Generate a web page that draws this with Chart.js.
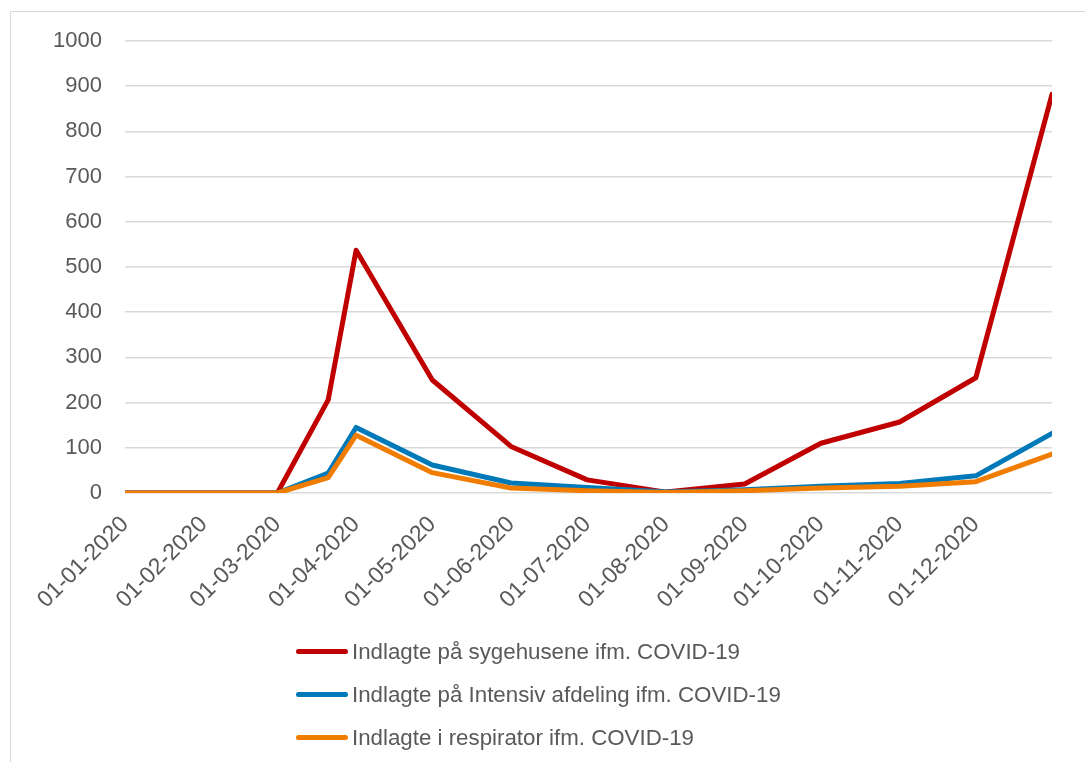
<!DOCTYPE html>
<html>
<head>
<meta charset="utf-8">
<script src="https://cdn.jsdelivr.net/npm/chart.js@4.4.0/dist/chart.umd.min.js"></script>
<style>
  body { margin: 0; background: #fff; }
  #wrap { position: relative; width: 1085px; height: 762px; overflow: hidden; }
  #frame { position: absolute; left: 10px; top: 11px; width: 1200px; height: 900px;
           border-left: 1.5px solid #d9d9d9; border-top: 1.5px solid #d9d9d9; }
  #myChart { position: absolute; left: 0; top: 0; }
  #legend { position: absolute; left: 296px; top: 630px; font-family: "Liberation Sans", Arial, sans-serif;
            font-size: 22.3px; color: #595959; }
  .item { display: flex; align-items: center; height: 43px; }
  .swatch { width: 52px; height: 5px; border-radius: 3px; margin-right: 4px; }
</style>
</head>
<body>
<div id="wrap">
  <div id="frame"></div>
  <canvas id="myChart" width="1085" height="762"></canvas>
  <div id="legend"></div>
</div>
<script>
// dates of the data points
const dates = ['2020-01-01', '2020-02-01', '2020-03-01', '2020-03-21', '2020-04-01', '2020-05-01', '2020-06-01',
               '2020-07-01', '2020-08-01', '2020-09-01', '2020-10-01', '2020-11-01', '2020-12-01', '2020-12-31'];
const sygehus   = [0, 0, 0, 206, 537, 250, 103, 29, 2, 20, 110, 157, 255, 882];
const intensiv  = [0, 0, 0, 44, 145, 62, 22, 12, 2, 7, 15, 21, 38, 132];
const respirator = [0, 0, 0, 34, 128, 45, 11, 5, 1, 5, 11, 15, 25, 86];

// x axis ticks (month starts) and their labels
const tickDates = ['2020-01-01', '2020-02-01', '2020-03-01', '2020-04-01', '2020-05-01', '2020-06-01',
                   '2020-07-01', '2020-08-01', '2020-09-01', '2020-10-01', '2020-11-01', '2020-12-01'];
const tickLabels = ['01-01-2020', '01-02-2020', '01-03-2020', '01-04-2020', '01-05-2020', '01-06-2020',
                    '01-07-2020', '01-08-2020', '01-09-2020', '01-10-2020', '01-11-2020', '01-12-2020'];

const names = ['Indlagte på sygehusene ifm. COVID-19',
               'Indlagte på Intensiv afdeling ifm. COVID-19',
               'Indlagte i respirator ifm. COVID-19'];
const colors = ['#c00000', '#0079b8', '#f07c00'];

const start = Date.UTC(2020, 0, 1);
function day(s) {
  return Math.round((Date.parse(s + 'T00:00:00Z') - start) / 86400000);
}

function pts(values) {
  return values.map((v, i) => ({ x: day(dates[i]), y: v }));
}

const series = [sygehus, intensiv, respirator];
const ctx = document.getElementById('myChart');
const fam = '"Liberation Sans", Arial, sans-serif';

const chart = new Chart(ctx, {
  type: 'line',
  data: {
    datasets: series.map((s, i) => ({
      label: names[i],
      data: pts(s),
      borderColor: colors[i],
      backgroundColor: colors[i],
      borderWidth: 5,
      borderJoinStyle: 'round',
      borderCapStyle: 'round',
      pointRadius: 0,
      fill: false,
      tension: 0,
      order: 3 - i
    }))
  },
  options: {
    responsive: false,
    animation: false,
    layout: { padding: { left: 0, right: 33, top: 41, bottom: 0 } },
    plugins: {
      legend: { display: false },
      tooltip: { enabled: false }
    },
    scales: {
      x: {
        type: 'linear',
        min: 0,
        max: day('2020-12-31'),
        afterBuildTicks: (scale) => {
          scale.ticks = tickDates.map(d => ({ value: day(d) }));
        },
        afterFit: (scale) => { scale.height = 269; },
        grid: { display: false, drawTicks: false },
        border: { display: false },
        ticks: {
          autoSkip: false,
          maxRotation: 45,
          minRotation: 45,
          padding: 18,
          color: '#595959',
          font: { family: fam, size: 23 },
          callback: (value, index) => tickLabels[index]
        }
      },
      y: {
        min: 0,
        max: 1000,
        afterFit: (scale) => { scale.width = 125; },
        grid: { color: '#d9d9d9', lineWidth: 1.5, drawTicks: false },
        border: { display: false },
        ticks: {
          stepSize: 100,
          padding: 23,
          color: '#595959',
          font: { family: fam, size: 22 },
          callback: (value) => String(value)
        }
      }
    }
  }
});

// legend listed one item per row
const legendBox = document.getElementById('legend');
chart.data.datasets.forEach(ds => {
  const row = document.createElement('div');
  row.className = 'item';
  const sw = document.createElement('span');
  sw.className = 'swatch';
  sw.style.background = ds.borderColor;
  const txt = document.createElement('span');
  txt.textContent = ds.label;
  row.appendChild(sw);
  row.appendChild(txt);
  legendBox.appendChild(row);
});
</script>
</body>
</html>
